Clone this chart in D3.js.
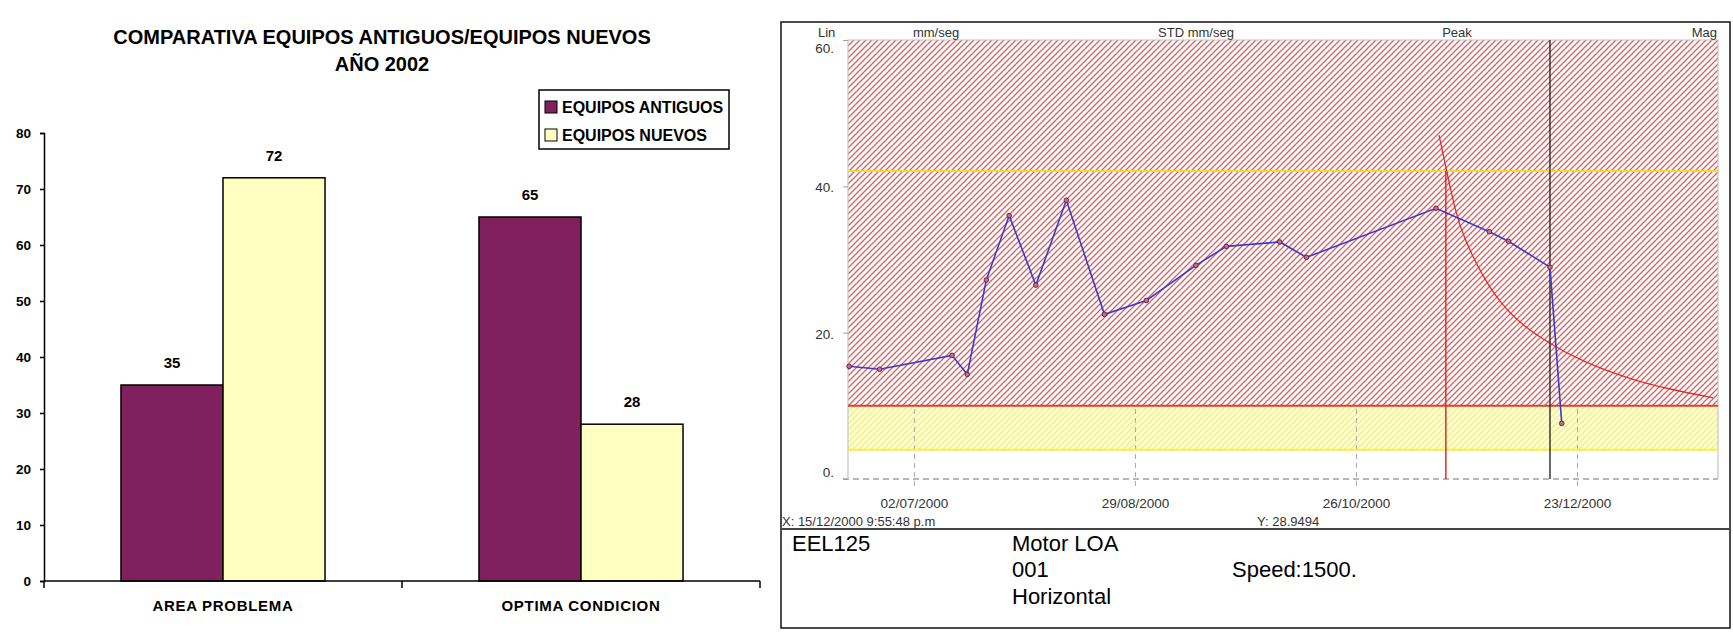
<!DOCTYPE html>
<html>
<head>
<meta charset="utf-8">
<script src="https://cdn.jsdelivr.net/npm/d3@7"></script>
<style>
  body { margin: 0; background: #fff; }
  svg { display: block; font-family: Arial, "Liberation Sans", sans-serif; }
</style>
</head>
<body>
<svg id="chart" width="1733" height="632"></svg>
<script>
// ---- left chart data ----
const barCategories = ["AREA PROBLEMA", "OPTIMA CONDICION"];
const barSeries = ["EQUIPOS ANTIGUOS", "EQUIPOS NUEVOS"];
const antiguosValues = [35, 65];
const nuevosValues = [72, 28];
const barTicks = [0, 10, 20, 30, 40, 50, 60, 70, 80];

// ---- right chart data (trend of vibration, mm/seg) ----
const trendDates = ["2000-06-15", "2000-06-23", "2000-07-12", "2000-07-16", "2000-07-21",
  "2000-07-27", "2000-08-03", "2000-08-11", "2000-08-21", "2000-09-01", "2000-09-14",
  "2000-09-22", "2000-10-06", "2000-10-13", "2000-11-16", "2000-11-30", "2000-12-05",
  "2000-12-15 21:55", "2000-12-19"];
const trendValues = [15.4, 15.0, 16.9, 14.3, 27.2, 36.0, 26.5, 38.1, 22.5, 24.4, 29.2,
  31.8, 32.4, 30.3, 37.0, 33.8, 32.5, 28.9494, 7.6];
const peakDates = ["2000-11-16 19:00", "2000-11-18 22:00", "2000-11-21 00:00", "2000-11-23 02:00",
  "2000-11-28 07:00", "2000-12-03 00:00", "2000-12-08 00:00", "2000-12-15 02:00",
  "2000-12-24 12:00", "2001-01-06 17:00", "2001-01-17 00:00", "2001-01-27 17:00"];
const peakValues = [47.0, 41.8, 36.8, 33.2, 27.6, 24.0, 21.3, 18.7, 16.0, 13.5, 12.2, 11.1];
const peakMarkerDate = "2000-11-18 14:00";
const cursorDate = "2000-12-15 21:55";
const cursorLabel = "X: 15/12/2000 9:55:48 p.m";
const cursorValueLabel = "Y: 28.9494";
const dateTicks = ["2000-07-02", "2000-08-29", "2000-10-26", "2000-12-23"];
const levelTicks = [0, 20, 40, 60];
const alarmHigh = 42.1;
const dangerLow = 10;
const alertLow = 4;
const dateDomain = ["2000-06-14 17:00", "2001-01-29 00:00"];

const parseTime = d3.utcParse("%Y-%m-%d %H:%M");
const parseDay = d3.utcParse("%Y-%m-%d");
const toDate = s => parseTime(s) || parseDay(s);

const svg = d3.select("#chart");

// =================== LEFT: bar chart ===================
const purple = "#80205f";
const paleYellow = "#ffffc2";
const barColor = d3.scaleOrdinal().domain(barSeries).range([purple, paleYellow]);

const left = svg.append("g");
const x0 = d3.scaleBand().domain(barCategories).range([44, 760]);
const bw = x0.bandwidth();
const x1 = d3.scaleBand().domain(barSeries).range([bw * 0.215, bw * 0.785]);
const yBar = d3.scaleLinear().domain([0, 80]).range([581, 133]);

const barRows = barCategories.map((c, i) => ({
  category: c,
  values: [
    { series: barSeries[0], value: antiguosValues[i] },
    { series: barSeries[1], value: nuevosValues[i] }
  ]
}));

// title
left.append("text")
  .attr("x", 382).attr("y", 44)
  .attr("text-anchor", "middle")
  .attr("font-size", 20).attr("font-weight", "bold")
  .text("COMPARATIVA EQUIPOS ANTIGUOS/EQUIPOS NUEVOS");
left.append("text")
  .attr("x", 382).attr("y", 71)
  .attr("text-anchor", "middle")
  .attr("font-size", 20).attr("font-weight", "bold")
  .text("AÑO 2002");

// bars
const groups = left.selectAll(".bar-group")
  .data(barRows)
  .enter().append("g")
  .attr("class", "bar-group")
  .attr("transform", d => `translate(${x0(d.category)},0)`);

groups.selectAll("rect")
  .data(d => d.values)
  .enter().append("rect")
  .attr("x", d => x1(d.series))
  .attr("y", d => yBar(d.value))
  .attr("width", x1.bandwidth())
  .attr("height", d => yBar(0) - yBar(d.value))
  .attr("fill", d => barColor(d.series))
  .attr("stroke", "#000")
  .attr("stroke-width", 1.5);

groups.selectAll(".bar-label")
  .data(d => d.values)
  .enter().append("text")
  .attr("class", "bar-label")
  .attr("x", d => x1(d.series) + x1.bandwidth() / 2)
  .attr("y", d => yBar(d.value) - 22)
  .attr("dy", "0.35em")
  .attr("text-anchor", "middle")
  .attr("font-size", 15).attr("font-weight", "bold")
  .text(d => d.value);

// y axis
const yAxisBar = left.append("g")
  .attr("transform", "translate(44,0)")
  .call(d3.axisLeft(yBar).tickValues(barTicks).tickSize(4).tickPadding(9));
yAxisBar.selectAll("path, line").attr("stroke", "#000").attr("stroke-width", 1.5);
yAxisBar.selectAll("text")
  .attr("font-size", 13.5).attr("font-weight", "bold").attr("fill", "#000")
  .attr("font-family", "Arial, 'Liberation Sans', sans-serif");

// x axis
left.append("line")
  .attr("x1", 44).attr("x2", 760)
  .attr("y1", yBar(0)).attr("y2", yBar(0))
  .attr("stroke", "#000").attr("stroke-width", 1.5);
const bounds = barCategories.map(c => x0(c)).concat([x0(barCategories[barCategories.length - 1]) + bw]);
left.selectAll(".x-tick")
  .data(bounds)
  .enter().append("line")
  .attr("x1", d => d).attr("x2", d => d)
  .attr("y1", yBar(0)).attr("y2", yBar(0) + 7)
  .attr("stroke", "#000").attr("stroke-width", 1.5);
left.selectAll(".cat-label")
  .data(barCategories)
  .enter().append("text")
  .attr("x", d => x0(d) + bw / 2)
  .attr("y", 611)
  .attr("text-anchor", "middle")
  .attr("font-size", 15).attr("font-weight", "bold")
  .attr("letter-spacing", 0.7)
  .text(d => d);

// legend
const legend = left.append("g");
legend.append("rect")
  .attr("x", 539).attr("y", 90).attr("width", 190).attr("height", 59)
  .attr("fill", "#fff").attr("stroke", "#000").attr("stroke-width", 1.5);
const legendItems = legend.selectAll(".legend-item")
  .data(barSeries)
  .enter().append("g")
  .attr("transform", (d, i) => `translate(545,${107 + i * 28})`);
legendItems.append("rect")
  .attr("x", 0).attr("y", -6).attr("width", 12).attr("height", 12)
  .attr("fill", d => barColor(d)).attr("stroke", "#000").attr("stroke-width", 1);
legendItems.append("text")
  .attr("x", 17).attr("y", 6)
  .attr("font-size", 16).attr("font-weight", "bold")
  .text(d => d);

// =================== RIGHT: trend plot ===================
const right = svg.append("g");
const xT = d3.scaleUtc().domain(dateDomain.map(toDate)).range([848, 1718]);
const yT = d3.scaleLinear().domain([0, 60]).range([479, 40]);

const defs = svg.append("defs");
const redHatch = defs.append("pattern")
  .attr("id", "red-hatch").attr("patternUnits", "userSpaceOnUse")
  .attr("width", 6).attr("height", 6);
redHatch.append("rect").attr("width", 6).attr("height", 6).attr("fill", "#fff");
redHatch.append("path")
  .attr("d", "M-1,1 l2,-2 M0,6 l6,-6 M5,7 l2,-2")
  .attr("stroke", "#de5c5c").attr("stroke-width", 1.25);
const yellowHatch = defs.append("pattern")
  .attr("id", "yellow-hatch").attr("patternUnits", "userSpaceOnUse")
  .attr("width", 6).attr("height", 6);
yellowHatch.append("path")
  .attr("d", "M-1,1 l2,-2 M0,6 l6,-6 M5,7 l2,-2")
  .attr("stroke", "#f0f078").attr("stroke-width", 1.3);

// panel frame
right.append("rect")
  .attr("x", 781).attr("y", 22).attr("width", 949).attr("height", 606)
  .attr("fill", "#fff").attr("stroke", "#111").attr("stroke-width", 1.5);
right.append("line")
  .attr("x1", 781).attr("x2", 1730).attr("y1", 529).attr("y2", 529)
  .attr("stroke", "#444").attr("stroke-width", 2);

// yellow zone
right.append("rect")
  .attr("x", xT.range()[0]).attr("width", xT.range()[1] - xT.range()[0])
  .attr("y", yT(dangerLow)).attr("height", yT(alertLow) - yT(dangerLow))
  .attr("fill", "#ffffd8");
right.append("rect")
  .attr("x", xT.range()[0]).attr("width", xT.range()[1] - xT.range()[0])
  .attr("y", yT(dangerLow)).attr("height", yT(alertLow) - yT(dangerLow))
  .attr("fill", "url(#yellow-hatch)");

// x axis (dashed grid + labels)
const xAxisT = right.append("g")
  .attr("transform", `translate(0,${yT(0)})`)
  .call(d3.axisBottom(xT).tickValues(dateTicks.map(toDate))
    .tickFormat(d3.utcFormat("%d/%m/%Y")).tickSize(8).tickPadding(11));
xAxisT.select(".domain").remove();
xAxisT.selectAll(".tick line")
  .attr("y1", yT(60) - yT(0))
  .attr("stroke", "#a8a8a8").attr("stroke-dasharray", "5,4");
xAxisT.selectAll("text")
  .attr("font-size", 13.5).attr("fill", "#333")
  .attr("font-family", "Arial, 'Liberation Sans', sans-serif");

// red zone
right.append("rect")
  .attr("x", xT.range()[0]).attr("width", xT.range()[1] - xT.range()[0])
  .attr("y", yT(60)).attr("height", yT(dangerLow) - yT(60))
  .attr("fill", "url(#red-hatch)");

// zero line
right.append("line")
  .attr("x1", 843).attr("x2", xT.range()[1])
  .attr("y1", yT(0)).attr("y2", yT(0))
  .attr("stroke", "#a0a0a0").attr("stroke-width", 1.3).attr("stroke-dasharray", "6,4");

// plot border
right.append("path")
  .attr("d", `M${xT.range()[0]},${yT(0)}V${yT(60)}H${xT.range()[1]}V${yT(0)}`)
  .attr("fill", "none").attr("stroke", "#c4c4c4").attr("stroke-width", 1.2);

// y axis
const yAxisT = right.append("g")
  .attr("transform", `translate(${xT.range()[0]},0)`)
  .call(d3.axisLeft(yT).tickValues(levelTicks).tickFormat(d => d + ".").tickSize(5).tickPadding(9));
yAxisT.select(".domain").remove();
yAxisT.selectAll(".tick line").attr("stroke", "#a0a0a0");
yAxisT.selectAll("text")
  .attr("font-size", 13.5).attr("fill", "#333")
  .attr("font-family", "Arial, 'Liberation Sans', sans-serif")
  .attr("dy", d => d === 60 ? "0.95em" : d === 0 ? "-0.2em" : "0.4em");

// alarm level lines
right.append("line")
  .attr("x1", xT.range()[0]).attr("x2", xT.range()[1])
  .attr("y1", yT(alarmHigh)).attr("y2", yT(alarmHigh))
  .attr("stroke", "#f2d83a").attr("stroke-width", 2);
right.append("line")
  .attr("x1", xT.range()[0]).attr("x2", xT.range()[1])
  .attr("y1", yT(dangerLow)).attr("y2", yT(dangerLow))
  .attr("stroke", "#e03c30").attr("stroke-width", 2);
right.append("line")
  .attr("x1", xT.range()[0]).attr("x2", xT.range()[1])
  .attr("y1", yT(alertLow)).attr("y2", yT(alertLow))
  .attr("stroke", "#f0f040").attr("stroke-width", 2);

// peak marker and decay curve
right.append("line")
  .attr("x1", xT(toDate(peakMarkerDate))).attr("x2", xT(toDate(peakMarkerDate)))
  .attr("y1", yT(alarmHigh)).attr("y2", yT(0))
  .attr("stroke", "#e82828").attr("stroke-width", 1.5);
const peakData = peakDates.map((d, i) => ({ date: toDate(d), value: peakValues[i] }));
right.append("path")
  .datum(peakData)
  .attr("fill", "none")
  .attr("stroke", "#e42a2a").attr("stroke-width", 1.3)
  .attr("d", d3.line().x(d => xT(d.date)).y(d => yT(d.value)).curve(d3.curveBasis));

// cursor
right.append("line")
  .attr("x1", xT(toDate(cursorDate))).attr("x2", xT(toDate(cursorDate)))
  .attr("y1", yT(60)).attr("y2", yT(0))
  .attr("stroke", "#2a2a2a").attr("stroke-width", 1.4);

// trend line
const trendData = trendDates.map((d, i) => ({ date: toDate(d), value: trendValues[i] }));
right.append("path")
  .datum(trendData)
  .attr("fill", "none")
  .attr("stroke", "#3a3ad0").attr("stroke-width", 1.6)
  .attr("d", d3.line().x(d => xT(d.date)).y(d => yT(d.value)));
right.selectAll(".trend-dot")
  .data(trendData)
  .enter().append("circle")
  .attr("class", "trend-dot")
  .attr("cx", d => xT(d.date)).attr("cy", d => yT(d.value))
  .attr("r", 2.3)
  .attr("fill", "#c87090").attr("stroke", "#6a2040").attr("stroke-width", 1);

// header labels
const smallText = (x, y, anchor, txt) => right.append("text")
  .attr("x", x).attr("y", y).attr("text-anchor", anchor)
  .attr("font-size", 13).attr("fill", "#333").text(txt);
smallText(818, 37, "start", "Lin");
smallText(936, 37, "middle", "mm/seg");
smallText(1196, 37, "middle", "STD mm/seg");
smallText(1457, 37, "middle", "Peak");
smallText(1717, 37, "end", "Mag");
smallText(782, 526, "start", cursorLabel);
smallText(1257, 526, "start", cursorValueLabel);

// info block
const infoText = (x, y, txt) => right.append("text")
  .attr("x", x).attr("y", y)
  .attr("font-size", 22).attr("fill", "#000").text(txt);
infoText(792, 551, "EEL125");
infoText(1012, 551, "Motor LOA");
infoText(1012, 577, "001");
infoText(1012, 604, "Horizontal");
infoText(1232, 577, "Speed:1500.");
</script>
</body>
</html>
